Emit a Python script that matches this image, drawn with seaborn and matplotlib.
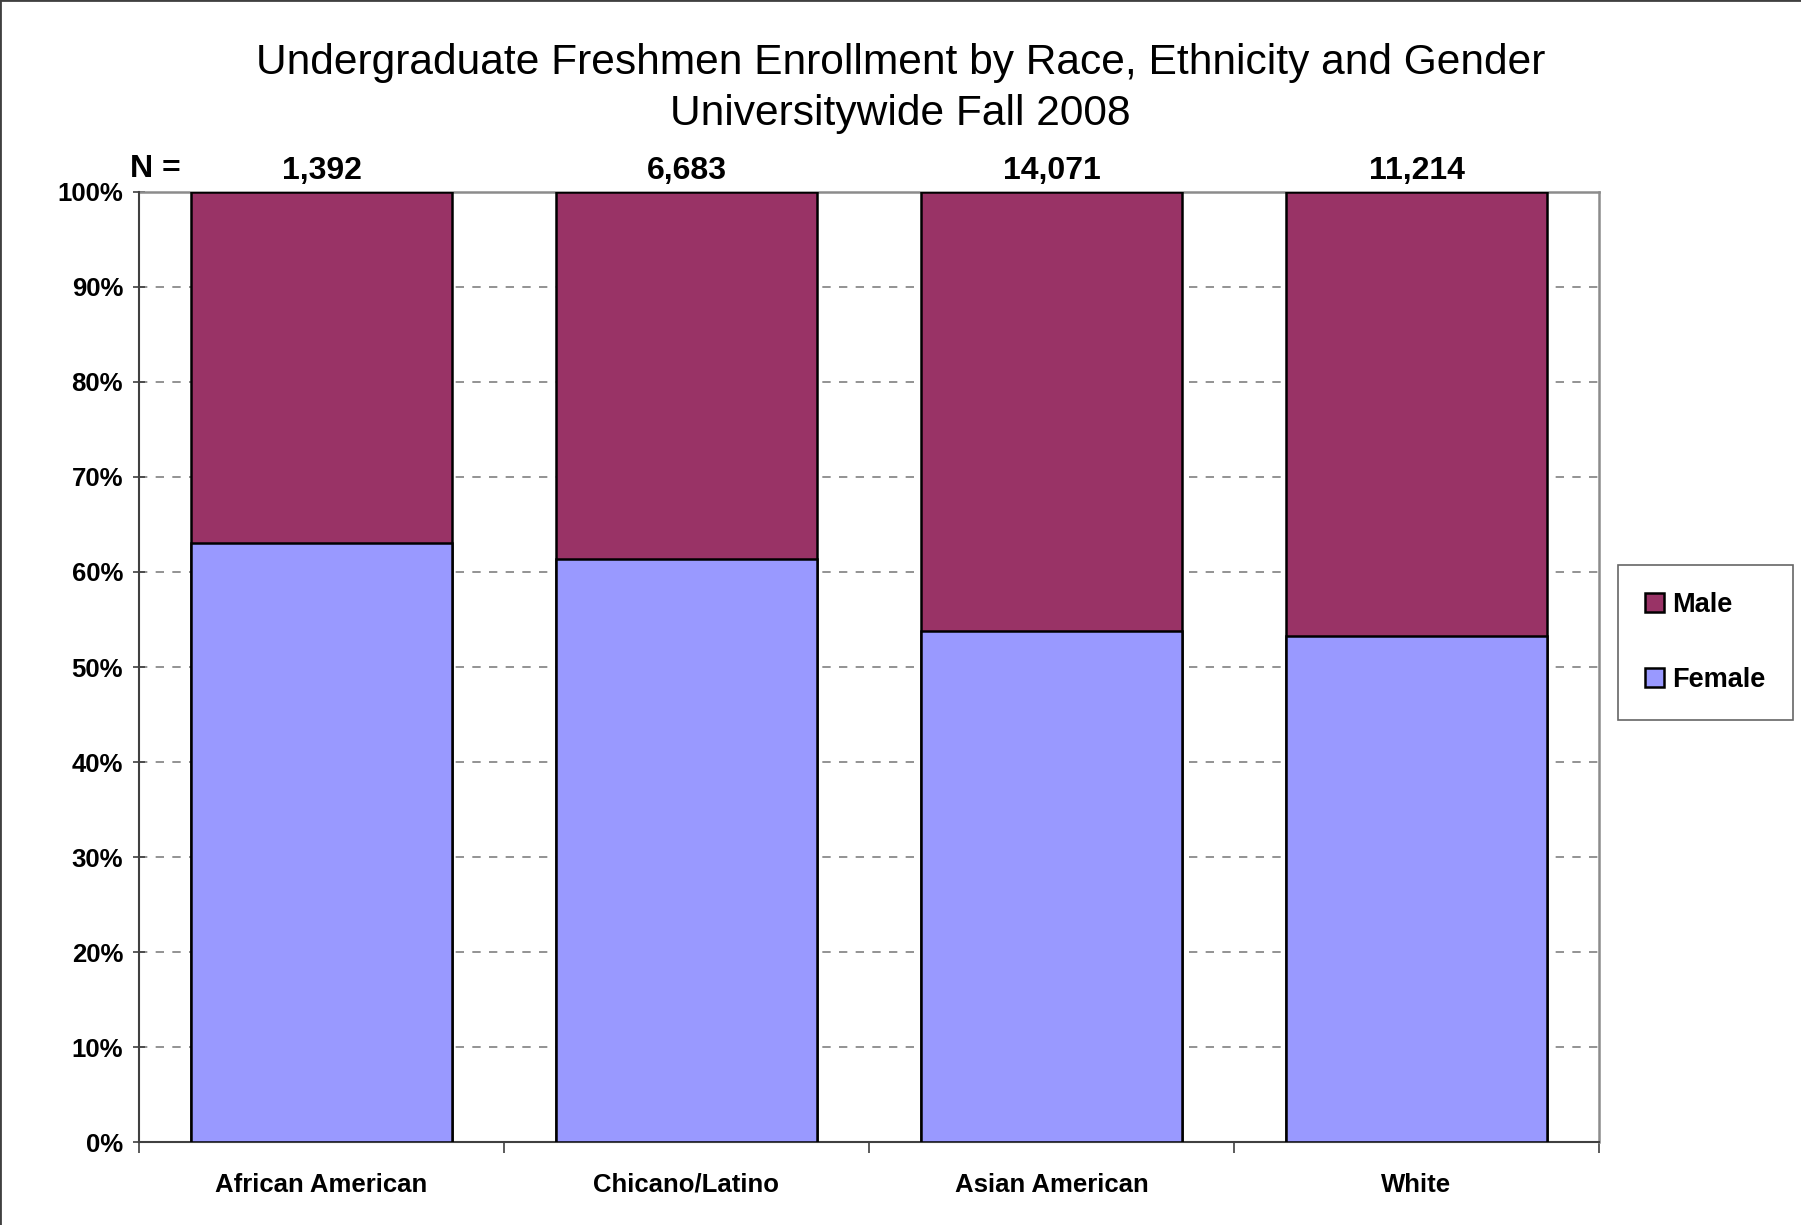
import matplotlib
matplotlib.use("Agg")
import matplotlib.pyplot as plt
import seaborn as sns
import pandas as pd
from matplotlib.patches import Patch
from matplotlib.lines import Line2D

# data
categories = ["African American", "Chicano/Latino", "Asian American", "White"]
female_pct = [63.0, 61.4, 53.8, 53.3]
male_pct = [37.0, 38.6, 46.2, 46.7]
n_labels = ["1,392", "6,683", "14,071", "11,214"]

MALE_COLOR = "#993366"
FEMALE_COLOR = "#9999FF"

sns.set_style("white")
plt.rcParams["font.family"] = ["Liberation Sans", "DejaVu Sans"]
plt.rcParams["text.color"] = "black"
plt.rcParams["xtick.labelcolor"] = "black"
plt.rcParams["ytick.labelcolor"] = "black"

df = pd.DataFrame({"group": categories, "female": female_pct, "male": male_pct})
df["total"] = df["female"] + df["male"]

fig = plt.figure(figsize=(18.01, 12.25), dpi=100)
ax = fig.add_axes([0.0772, 0.0675, 0.8878 - 0.0772, 0.8435 - 0.0675])

# stacked bars: total (male colour) first, female drawn on top
sns.barplot(data=df, x="group", y="total", color=MALE_COLOR, saturation=1,
            width=0.717, edgecolor="black", linewidth=1.8, ax=ax, zorder=3)
sns.barplot(data=df, x="group", y="female", color=FEMALE_COLOR, saturation=1,
            width=0.717, edgecolor="black", linewidth=1.8, ax=ax, zorder=3)

ax.set_xlim(-0.5, len(categories) - 0.5)
ax.set_ylim(0, 100)
ax.set_xlabel("")
ax.set_ylabel("")

ax.set_yticks(range(0, 101, 10))
ax.set_yticklabels([f"{v}%" for v in range(0, 101, 10)], fontsize=18.5, fontweight="bold")
ax.tick_params(axis="y", direction="inout", length=9, width=1.2, color="#404040", pad=7, left=True)

ax.set_xticks(range(len(categories)))
ax.set_xticklabels(categories, fontsize=18.5, fontweight="bold")
ax.set_xticks([i - 0.5 for i in range(len(categories) + 1)], minor=True)
ax.tick_params(axis="x", which="major", length=0, pad=22)
ax.tick_params(axis="x", which="minor", direction="out", length=8, width=1.2, color="#404040", bottom=True)

# dashed horizontal gridlines behind bars
ax.set_axisbelow(True)
for v in range(10, 100, 10):
    ax.axhline(v, color="#808080", linestyle=(0, (5, 5)), linewidth=1.2, zorder=0)

for side in ["left", "bottom"]:
    ax.spines[side].set_color("#404040")
    ax.spines[side].set_linewidth(1.5)
for side in ["top", "right"]:
    ax.spines[side].set_color("#8c8c8c")
    ax.spines[side].set_linewidth(1.8)
    ax.spines[side].set_zorder(1)

# N labels above bars
for i, lab in enumerate(n_labels):
    ax.text(i, 100.6, lab, ha="center", va="bottom", fontsize=23, fontweight="bold",
            transform=ax.transData, clip_on=False)
fig.text(113 / 1568, 1 - 147 / 1067, "N =", ha="left", va="center", fontsize=23, fontweight="bold")

# title
fig.text(0.5, 1 - 77 / 1067,
         "Undergraduate Freshmen Enrollment by Race, Ethnicity and Gender\nUniversitywide Fall 2008",
         ha="center", va="center", fontsize=30.6, linespacing=1.34)

# legend
handles = [Patch(facecolor=MALE_COLOR, edgecolor="black", linewidth=1.8, label="Male"),
           Patch(facecolor=FEMALE_COLOR, edgecolor="black", linewidth=1.8, label="Female")]
leg = fig.legend(handles=handles, loc="center", bbox_to_anchor=(0.947, 0.4756),
                 prop={"size": 19.5, "weight": "bold"}, handlelength=0.7, handleheight=0.7,
                 handletextpad=0.3, labelspacing=1.8, borderpad=1.0, borderaxespad=0,
                 fancybox=False, frameon=True)
leg.get_frame().set_edgecolor("#404040")
leg.get_frame().set_linewidth(1.2)

# figure border (top and left visible in reference)
fig.add_artist(Line2D([0, 0], [0, 1], transform=fig.transFigure, color="#404040", linewidth=2))
fig.add_artist(Line2D([0, 1], [1, 1], transform=fig.transFigure, color="#404040", linewidth=2))

fig.savefig("out.png", dpi=100, facecolor="white")
